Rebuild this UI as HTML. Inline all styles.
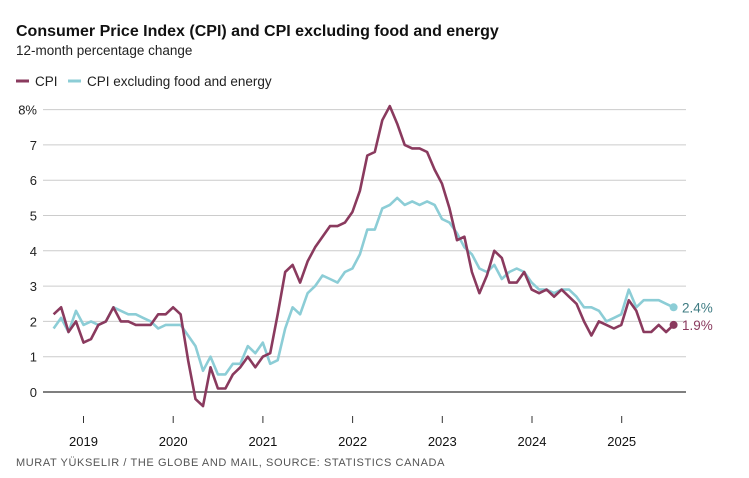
<!DOCTYPE html>
<html><head><meta charset="utf-8"><style>
body{margin:0;background:#fff;width:749px;height:478px;overflow:hidden;font-family:"Liberation Sans",sans-serif}
svg{position:absolute;left:0;top:0}
</style></head><body>
<svg id="s" width="749" height="478" xmlns="http://www.w3.org/2000/svg">
<text x="16" y="36" font-size="16" font-weight="bold" fill="#111">Consumer Price Index (CPI) and CPI excluding food and energy</text>
<text x="16" y="55" font-size="13.5" fill="#222">12-month percentage change</text>
<line x1="16" y1="81" x2="29" y2="81" stroke="#8a3a5e" stroke-width="3"/>
<text x="35" y="86" font-size="13.5" fill="#222">CPI</text>
<line x1="68" y1="81" x2="81" y2="81" stroke="#8ccdd6" stroke-width="3"/>
<text x="87" y="86" font-size="13.5" fill="#222">CPI excluding food and energy</text>
<g id="g"></g>
<text x="16" y="466" font-size="11" fill="#555" letter-spacing="0.6">MURAT YÜKSELIR / THE GLOBE AND MAIL, SOURCE: STATISTICS CANADA</text>
</svg>
<script>
var g=document.getElementById('g'),h='';
function Y(v){return 392-v*35.3}
for(var i=0;i<=8;i++){var y=Y(i);
 if(i>0)h+='<line x1="43" x2="686" y1="'+y+'" y2="'+y+'" stroke="#ccc" stroke-width="1"/>';
 h+='<text x="37" y="'+(y+5)+'" font-size="13" text-anchor="end" fill="#222">'+i+(i==8?'%':'')+'</text>';}
h+='<line x1="43" x2="686" y1="392" y2="392" stroke="#333" stroke-width="1.2"/>';
for(var k=0;k<7;k++){var x=83.5+89.7*k;
 h+='<line x1="'+x+'" x2="'+x+'" y1="416" y2="423" stroke="#333"/>';
 h+='<text x="'+x+'" y="446" font-size="13" text-anchor="middle" fill="#111">'+(2019+k)+'</text>';}
var cpi=[2.2,2.4,1.7,2.0,1.4,1.5,1.9,2.0,2.4,2.0,2.0,1.9,1.9,1.9,2.2,2.2,2.4,2.2,0.9,-0.2,-0.4,0.7,0.1,0.1,0.5,0.7,1.0,0.7,1.0,1.1,2.2,3.4,3.6,3.1,3.7,4.1,4.4,4.7,4.7,4.8,5.1,5.7,6.7,6.8,7.7,8.1,7.6,7.0,6.9,6.9,6.8,6.3,5.9,5.2,4.3,4.4,3.4,2.8,3.3,4.0,3.8,3.1,3.1,3.4,2.9,2.8,2.9,2.7,2.9,2.7,2.5,2.0,1.6,2.0,1.9,1.8,1.9,2.6,2.3,1.7,1.7,1.9,1.7,1.9];
var core=[1.8,2.1,1.7,2.3,1.9,2.0,1.9,2.0,2.4,2.3,2.2,2.2,2.1,2.0,1.8,1.9,1.9,1.9,1.6,1.3,0.6,1.0,0.5,0.5,0.8,0.8,1.3,1.1,1.4,0.8,0.9,1.8,2.4,2.2,2.8,3.0,3.3,3.2,3.1,3.4,3.5,3.9,4.6,4.6,5.2,5.3,5.5,5.3,5.4,5.3,5.4,5.3,4.9,4.8,4.5,4.1,3.9,3.5,3.4,3.6,3.2,3.4,3.5,3.4,3.1,2.9,2.9,2.8,2.9,2.9,2.7,2.4,2.4,2.3,2.0,2.1,2.2,2.9,2.4,2.6,2.6,2.6,2.5,2.4];
function X(i){return 53.6+i*7.47}
function pl(d,c){return '<polyline fill="none" stroke="'+c+'" stroke-width="2.6" stroke-linejoin="round" points="'+d.map(function(v,i){return X(i).toFixed(1)+','+Y(v).toFixed(1)}).join(' ')+'"/>'}
h+=pl(core,'#8ccdd6')+pl(cpi,'#8a3a5e');
var L=cpi.length-1;
h+='<circle cx="'+X(L)+'" cy="'+Y(2.4)+'" r="4" fill="#8ccdd6"/><circle cx="'+X(L)+'" cy="'+Y(1.9)+'" r="4" fill="#8a3a5e"/>';
h+='<text x="682" y="'+(Y(2.4)+5)+'" font-size="13.5" fill="#3f7c83">2.4%</text>';
h+='<text x="682" y="'+(Y(1.9)+5)+'" font-size="13.5" fill="#8a3a5e">1.9%</text>';
g.innerHTML=h;
</script>
</body></html>
